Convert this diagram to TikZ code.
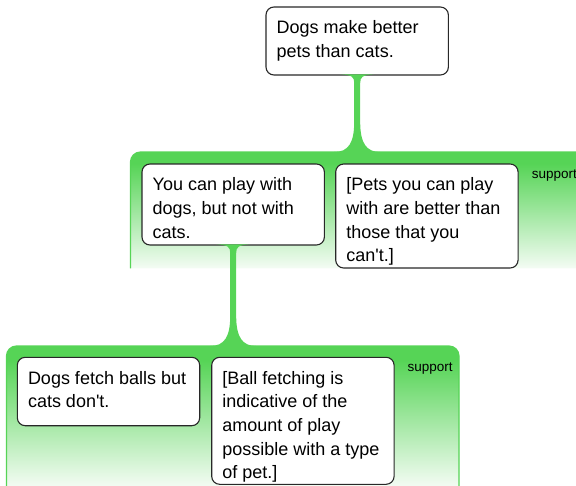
\documentclass[tikz,border=0pt]{standalone}
\usepackage{fontspec}
\setmainfont{Liberation Sans}
\usetikzlibrary{calc}
\definecolor{argGreen}{RGB}{86,212,86}
\definecolor{argPale}{RGB}{244,252,244}
\definecolor{argBorder}{RGB}{40,40,40}
\pgfdeclareverticalshading{panelshade}{100bp}{color(0bp)=(argPale); color(25bp)=(argPale); color(70bp)=(argGreen); color(100bp)=(argGreen)}
\newcommand{\argtxt}[2]{\parbox[t][#1][t]{161pt}{\rule{0pt}{26.8pt}#2}}
\tikzset{
  argbox/.style={draw=argBorder, line width=1.1pt, fill=white, rounded corners=8pt,
    anchor=north west, inner xsep=10.7pt, inner ysep=0pt, outer sep=0pt,
    font=\fontsize{18}{23.7}\selectfont},
  panelfill/.style={shading=panelshade, rounded corners=10pt},
  panelline/.style={draw=argGreen, line width=1.2pt, rounded corners=10pt},
  supportlabel/.style={anchor=base west, inner sep=0pt, font=\fontsize{13.5}{16}\selectfont},
  stemfill/.style={fill=argGreen}
}
\newcommand{\argstem}[2]{%
  \fill[stemfill] let \p1=(#1), \p2=(#2) in
    (\x1-17pt,\y1+0.7pt) -- (\x1+17pt,\y1+0.7pt)
    .. controls (\x1+5pt,\y1) and (\x1+3pt,\y1-2pt) .. (\x1+3pt,\y1-8pt)
    -- (\x1+3pt,\y2+30pt)
    .. controls (\x1+3pt,\y2+9pt) and (\x1+9pt,\y2) .. (\x1+23pt,\y2)
    -- (\x1+23pt,\y2-1pt) -- (\x1-23pt,\y2-1pt) -- (\x1-23pt,\y2)
    .. controls (\x1-9pt,\y2) and (\x1-3pt,\y2+9pt) .. (\x1-3pt,\y2+30pt)
    -- (\x1-3pt,\y1-8pt)
    .. controls (\x1-3pt,\y1-2pt) and (\x1-5pt,\y1) .. (\x1-17pt,\y1+0.7pt) -- cycle;}
\begin{document}
\begin{tikzpicture}[x=1pt,y=-1pt]
\useasboundingbox (0,0) rectangle (576,485);
\clip (0,0) rectangle (576,485);
% panels
\path[panelfill] (130.5,268.3) -- (130.5,152) -- (620,152) -- (620,268.3);
\path[panelline] (130.5,268.3) -- (130.5,152) -- (620,152) -- (620,268.3);
\path[panelfill] (6.5,487) -- (6.5,346) -- (459,346) -- (459,487);
\path[panelline] (6.5,487) -- (6.5,346) -- (459,346) -- (459,487);
\coordinate (p1top) at (357.25,152);
\coordinate (p2top) at (233.25,346);
\node[supportlabel] (sup1) at (531.7,178) {support};
\node[supportlabel] (sup2) at (407.3,371.7) {support};
% boxes
\node[argbox] (claim) at (266,7) {\argtxt{68pt}{Dogs make better\\pets than cats.}};
\node[argbox] (r1) at (142,164) {\argtxt{81pt}{You can play with\\dogs, but not with\\cats.}};
\node[argbox] (w1) at (335.7,164) {\argtxt{104pt}{[Pets you can play\\with are better than\\those that you\\can\textquotesingle t.]}};
\node[argbox] (r2) at (17.3,357.3) {\argtxt{68.4pt}{Dogs fetch balls but\\cats don\textquotesingle t.}};
\node[argbox] (w2) at (211.7,357.3) {\argtxt{127pt}{[Ball fetching is\\indicative of the\\amount of play\\possible with a type\\of pet.]}};
% stems
\argstem{claim.south}{p1top}
\argstem{r1.south}{p2top}
\end{tikzpicture}
\end{document}
